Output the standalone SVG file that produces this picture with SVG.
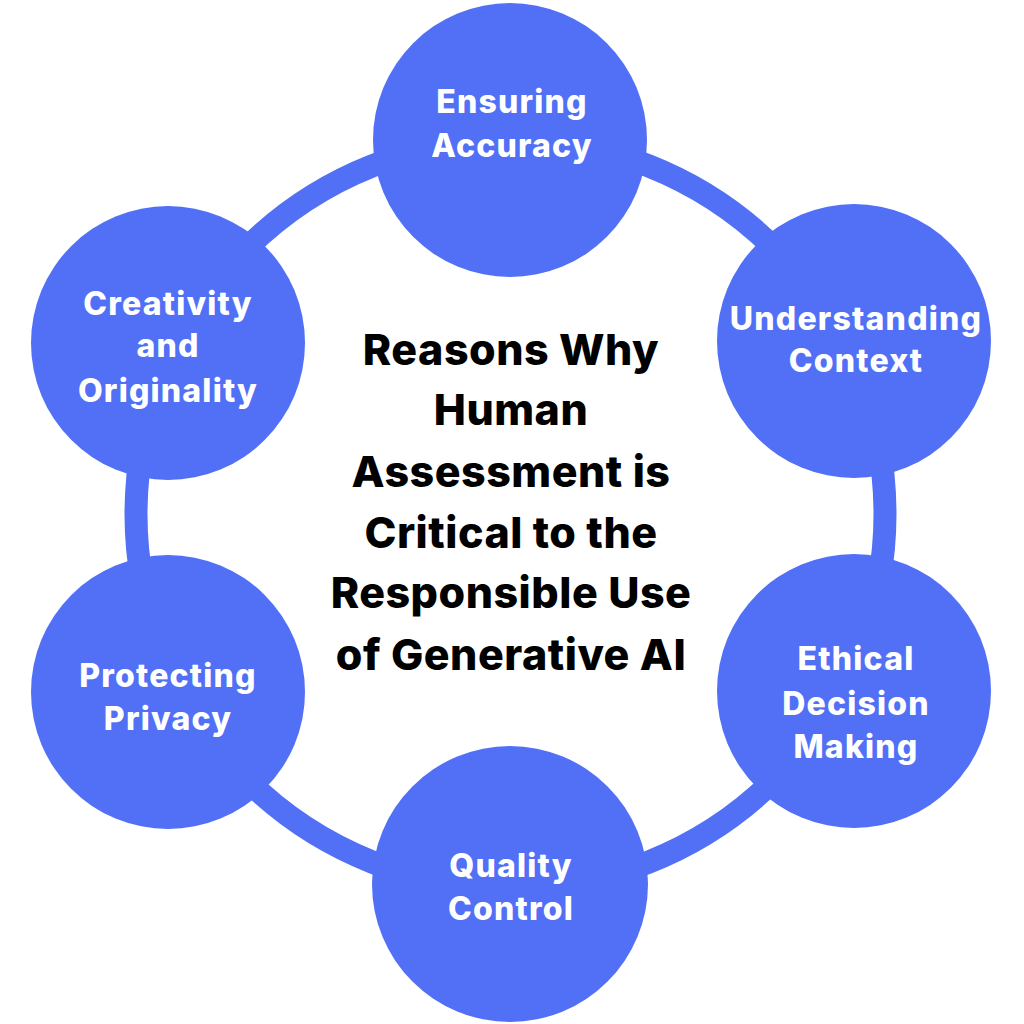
<svg xmlns="http://www.w3.org/2000/svg" width="1024" height="1024" viewBox="0 0 1024 1024">
  <style>
    .node { fill: #5170F6; }
    .lbl { font-family: Inter, "Open Sans", "Liberation Sans", sans-serif; font-weight: 800; font-size: 32px; letter-spacing: 1.2px; fill: #FFFFFF; text-anchor: middle; }
    .title { font-family: Inter, "Open Sans", "Liberation Sans", sans-serif; font-weight: 800; font-size: 43px; letter-spacing: 0.5px; fill: #000000; text-anchor: middle; }
  </style>
  <rect width="1024" height="1024" fill="#FFFFFF"/>
  <g id="connectors">
    <circle cx="510.5" cy="514" r="374.5" fill="none" stroke="#5170F6" stroke-width="23"/>
  </g>
  <g id="node-ensuring-accuracy">
    <circle class="node" cx="510" cy="140" r="137"/>
    <text class="lbl" x="512" y="113">Ensuring</text>
    <text class="lbl" x="512" y="157">Accuracy</text>
  </g>
  <g id="node-understanding-context">
    <circle class="node" cx="854" cy="341" r="137"/>
    <text class="lbl" x="856" y="330">Understanding</text>
    <text class="lbl" x="856" y="372">Context</text>
  </g>
  <g id="node-ethical-decision-making">
    <circle class="node" cx="854" cy="691" r="137"/>
    <text class="lbl" x="856" y="670">Ethical</text>
    <text class="lbl" x="856" y="715">Decision</text>
    <text class="lbl" x="856" y="758">Making</text>
  </g>
  <g id="node-quality-control">
    <circle class="node" cx="510" cy="884" r="138"/>
    <text class="lbl" x="511" y="877">Quality</text>
    <text class="lbl" x="511" y="920">Control</text>
  </g>
  <g id="node-protecting-privacy">
    <circle class="node" cx="168" cy="692" r="137"/>
    <text class="lbl" x="168" y="687">Protecting</text>
    <text class="lbl" x="168" y="730">Privacy</text>
  </g>
  <g id="node-creativity-originality">
    <circle class="node" cx="168" cy="343" r="137"/>
    <text class="lbl" x="168" y="315">Creativity</text>
    <text class="lbl" x="168" y="357">and</text>
    <text class="lbl" x="168" y="402">Originality</text>
  </g>
  <g id="title">
    <text class="title" x="511" y="365">Reasons Why</text>
    <text class="title" x="511" y="425">Human</text>
    <text class="title" x="511" y="487">Assessment is</text>
    <text class="title" x="511" y="548">Critical to the</text>
    <text class="title" x="511" y="608">Responsible Use</text>
    <text class="title" x="511" y="670">of Generative AI</text>
  </g>
</svg>
